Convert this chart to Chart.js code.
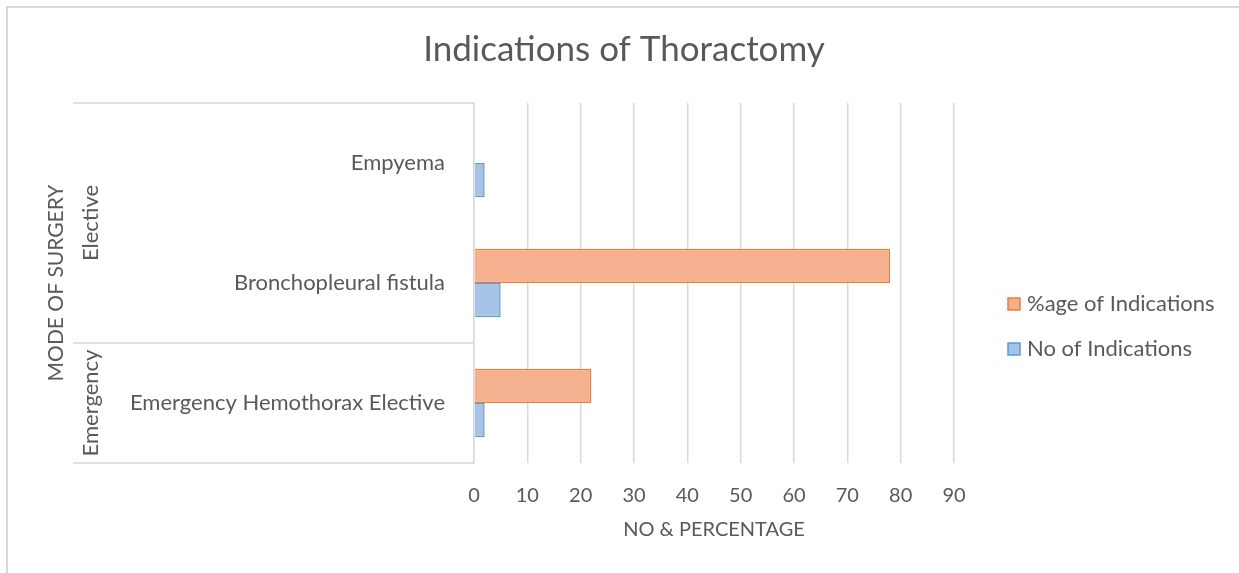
<!DOCTYPE html>
<html>
<head>
<meta charset="utf-8">
<title>Indications of Thoractomy</title>
<script src="https://cdn.jsdelivr.net/npm/chart.js@4.4.1/dist/chart.umd.min.js"></script>
<style>
  html, body { margin: 0; padding: 0; background: #fff; overflow: hidden; }
  #frame {
    position: absolute; left: 6px; top: 6px; width: 1300px; height: 700px;
    border-top: 2px solid #d9d9d9; border-left: 2px solid #d9d9d9;
  }
  #wrap { position: absolute; left: 0; top: 0; width: 1239px; height: 573px; }
</style>
</head>
<body>
<div id="frame"></div>
<div id="wrap"><canvas id="chart" width="1239" height="573"></canvas></div>
<script>
const chartTitle = "Indications of Thoractomy";
const categories = ["Empyema", "Bronchopleural fistula", "Emergency Hemothorax Elective"];
const percentValues = [null, 78, 22];
const countValues = [2, 5, 2];
const groupNames = ["Elective", "Emergency"];
const groupRanges = [[0, 1], [2, 2]];
const xMax = 90;
const xStep = 10;

const gray = "#595959";
const lineGray = "#d9d9d9";
const fontFamily = "Lato, 'Open Sans', sans-serif";
const textSize = 22;

// title, multi level category box, group labels, axis title, legend
const extrasPlugin = {
  id: "extras",
  afterDraw(chart) {
    const { ctx, chartArea, scales } = chart;
    const y = scales.y;
    const leftX = 73;
    const axisX = chartArea.left;

    ctx.save();
    ctx.fillStyle = gray;
    ctx.textAlign = "center";
    ctx.textBaseline = "middle";
    ctx.font = "35px " + fontFamily;
    ctx.fillText(chartTitle, 624, 50);

    ctx.strokeStyle = lineGray;
    ctx.lineWidth = 1.5;
    const half = (y.getPixelForValue(1) - y.getPixelForValue(0)) / 2;
    const bounds = [chartArea.top];
    groupRanges.forEach(r => bounds.push(y.getPixelForValue(r[1]) + half));
    bounds.forEach(b => {
      ctx.beginPath();
      ctx.moveTo(leftX, b);
      ctx.lineTo(axisX, b);
      ctx.stroke();
    });

    ctx.font = textSize + "px " + fontFamily;
    groupRanges.forEach((r, i) => {
      const top = y.getPixelForValue(r[0]) - half;
      const bottom = y.getPixelForValue(r[1]) + half;
      ctx.save();
      ctx.translate(91, (top + bottom) / 2);
      ctx.rotate(-Math.PI / 2);
      ctx.fillText(groupNames[i], 0, 0);
      ctx.restore();
    });

    ctx.font = "21px " + fontFamily;
    ctx.save();
    ctx.translate(56, (chartArea.top + chartArea.bottom) / 2);
    ctx.rotate(-Math.PI / 2);
    ctx.fillText("MODE OF SURGERY", 0, 0);
    ctx.restore();

    // legend
    ctx.font = textSize + "px " + fontFamily;
    chart.data.datasets.forEach((ds, i) => {
      const cy = 304 + i * 45;
      ctx.fillStyle = ds.backgroundColor;
      ctx.fillRect(1008, cy - 6, 12, 12);
      ctx.strokeStyle = ds.borderColor;
      ctx.lineWidth = 1.5;
      ctx.strokeRect(1008, cy - 6, 12, 12);
      ctx.fillStyle = gray;
      ctx.textAlign = "left";
      ctx.fillText(ds.label, 1027, cy);
    });
    ctx.restore();
  }
};

new Chart(document.getElementById("chart"), {
  type: "bar",
  data: {
    labels: categories,
    datasets: [
      {
        label: "%age of Indications",
        data: percentValues,
        backgroundColor: "#F5B090",
        borderColor: "#ED7D31",
        borderWidth: 1.5,
        categoryPercentage: 0.57,
        barPercentage: 1.0
      },
      {
        label: "No of Indications",
        data: countValues,
        backgroundColor: "#A6C3E7",
        borderColor: "#5B9BD5",
        borderWidth: 1.5,
        categoryPercentage: 0.57,
        barPercentage: 1.0
      }
    ]
  },
  options: {
    indexAxis: "y",
    responsive: false,
    animation: false,
    layout: { padding: { left: 73, right: 285, top: 103, bottom: 31 } },
    plugins: {
      legend: { display: false },
      tooltip: { enabled: false },
      title: { display: false }
    },
    scales: {
      x: {
        min: 0,
        max: xMax,
        afterFit(scale) { scale.height = 79; },
        ticks: {
          stepSize: xStep,
          padding: 21,
          color: gray,
          font: { family: fontFamily, size: 20 }
        },
        grid: { color: lineGray, lineWidth: 1.5, drawTicks: false },
        border: { display: false },
        title: {
          display: true,
          text: "NO & PERCENTAGE",
          color: gray,
          font: { family: fontFamily, size: 20 },
          padding: { top: 10, bottom: 0 }
        }
      },
      y: {
        afterFit(scale) { scale.width = 401; },
        ticks: {
          padding: 29,
          color: gray,
          font: { family: fontFamily, size: textSize }
        },
        grid: { display: false, drawTicks: false },
        border: { display: true, color: lineGray, width: 1.5 }
      }
    }
  },
  plugins: [extrasPlugin]
});
</script>
</body>
</html>
